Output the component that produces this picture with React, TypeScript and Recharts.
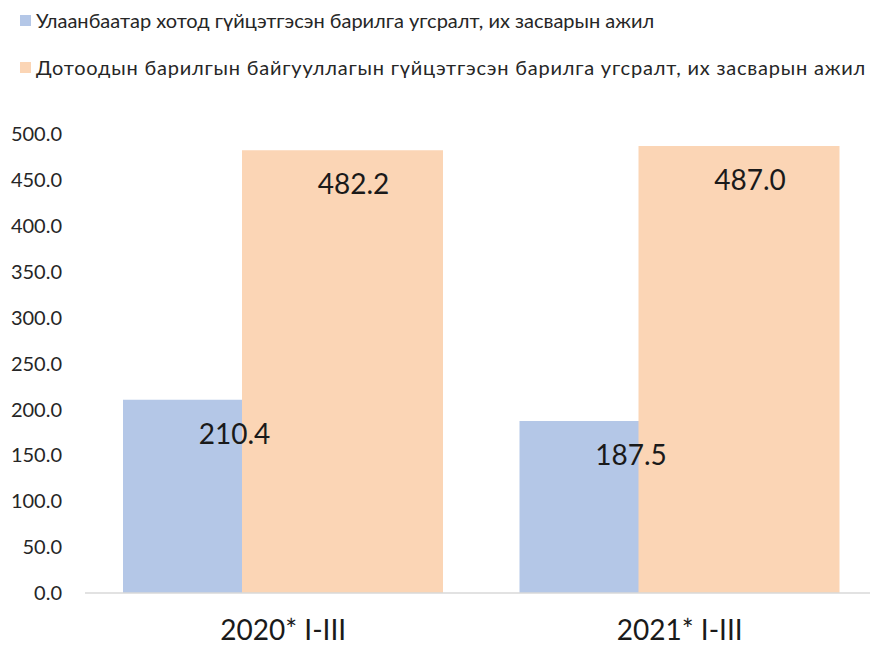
import React from 'react';
import { BarChart, Bar, XAxis, YAxis, Legend, LabelList } from 'recharts';

const categories = ['2020* I-III', '2021* I-III'];
const ubValues = [210.4, 187.5];
const domesticValues = [482.2, 487.0];
const yTicks = [0, 50, 100, 150, 200, 250, 300, 350, 400, 450, 500];

const seriesNames = [
  'Улаанбаатар хотод гүйцэтгэсэн барилга угсралт, их засварын ажил',
  'Дотоодын барилгын байгууллагын гүйцэтгэсэн барилга угсралт, их засварын ажил',
];

const BLUE = '#b4c7e7';
const ORANGE = '#fbd5b5';
const FONT = 'Lato, "Open Sans", sans-serif';

const chartData = categories.map((name, i) => ({
  name,
  ub: ubValues[i],
  domestic: domesticValues[i],
}));

const renderLabel = (props: any) => {
  const { x, y, width, value } = props;
  return (
    <text
      x={Number(x) + Number(width) / 2 + 11}
      y={Number(y) + 33}
      textAnchor="middle"
      dominantBaseline="central"
      fontSize={28}
      fontFamily={FONT}
      fill="#1a1a1a"
    >
      {Number(value).toFixed(1)}
    </text>
  );
};

const LegendContent = () => (
  <div style={{ fontFamily: FONT, fontSize: 20, color: '#262626' }}>
    {seriesNames.map((label, i) => (
      <div
        key={label}
        style={{
          position: 'absolute',
          left: 20,
          top: i === 0 ? 8 : 55,
          display: 'flex',
          alignItems: 'center',
          whiteSpace: 'nowrap',
          letterSpacing: i === 0 ? 0 : 0.8,
        }}
      >
        <span style={{ display: 'inline-block', width: 11, height: 11, background: i === 0 ? BLUE : ORANGE, marginRight: 5 }} />
        <span>{label}</span>
      </div>
    ))}
  </div>
);

export default function App() {
  return (
    <div style={{ position: 'absolute', left: 0, top: 0, width: 870, height: 646, overflow: 'hidden', background: '#fff' }}>
      <BarChart
        width={880}
        height={646}
        data={chartData}
        margin={{ top: 134, right: 2, left: 0, bottom: 0 }}
        barSize={201}
        barGap={-82}
      >
        <XAxis
          dataKey="name"
          axisLine={{ stroke: '#d9d9d9', strokeWidth: 1.5 }}
          tickLine={false}
          tickSize={0}
          tickMargin={27}
          height={53}
          tick={{ fontSize: 28, fontFamily: FONT, fill: '#1a1a1a' }}
        />
        <YAxis
          domain={[0, 500]}
          ticks={yTicks}
          width={85}
          axisLine={false}
          tickLine={false}
          tickSize={0}
          tickMargin={23}
          tickFormatter={(v: number) => v.toFixed(1)}
          tick={{ fontSize: 20, fontFamily: FONT, fill: '#262626' }}
        />
        <Legend
          layout="horizontal"
          verticalAlign="middle"
          align="center"
          wrapperStyle={{ top: 0, left: 0, width: 870, height: 100 }}
          content={<LegendContent />}
        />
        <Bar dataKey="ub" name={seriesNames[0]} fill={BLUE} isAnimationActive={false}>
          <LabelList dataKey="ub" content={renderLabel} />
        </Bar>
        <Bar dataKey="domestic" name={seriesNames[1]} fill={ORANGE} isAnimationActive={false}>
          <LabelList dataKey="domestic" content={renderLabel} />
        </Bar>
      </BarChart>
    </div>
  );
}
